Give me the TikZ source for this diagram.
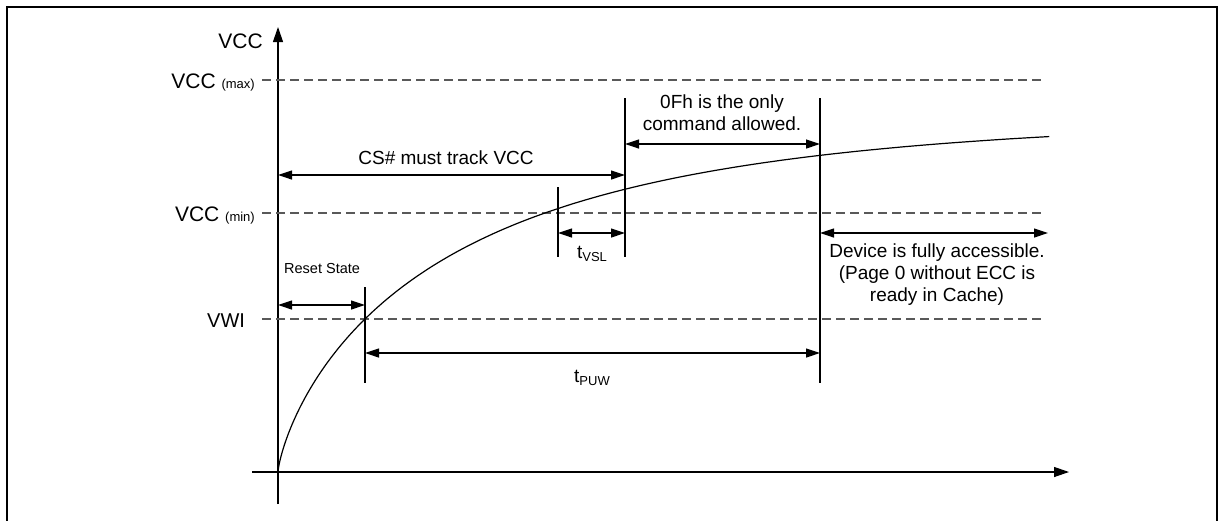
\documentclass[tikz,border=0pt]{standalone}
\usepackage{fontspec}
\setmainfont{Liberation Sans}
\usetikzlibrary{arrows.meta}
\begin{document}
\begin{tikzpicture}[x=1pt,y=-1pt,
  ln/.style={line width=1.2pt},
  axisline/.style={line width=1.2pt,-{Triangle[length=15pt,width=10pt]}},
  refline/.style={black!65, line width=1.3pt, dash pattern=on 9pt off 5pt},
  dimline/.style={line width=1.2pt,{Triangle[length=14pt,width=9pt]}-{Triangle[length=14pt,width=9pt]}},
  lbl/.style={font=\fontsize{19}{22}\selectfont, inner sep=0pt, align=center},
  small/.style={font=\fontsize{14.5}{16}\selectfont, inner sep=0pt},
]
\useasboundingbox (0,0) rectangle (1220,520);
% frame
\draw[line width=1.5pt] (7,521) -- (7,7) -- (1217,7) -- (1217,521);

% axes
\coordinate (ybot) at (278,504);
\coordinate (ytop) at (278,27);
\coordinate (xleft) at (252,472);
\coordinate (xright) at (1069,472);
\draw[axisline] (ybot) -- (ytop);
\draw[axisline] (xleft) -- (xright);

% reference levels
\coordinate (maxL) at (262,80);  \coordinate (maxR) at (1043,80);
\coordinate (minL) at (262,213); \coordinate (minR) at (1043,213);
\coordinate (vwiL) at (262,319); \coordinate (vwiR) at (1043,319);
\draw[refline] (maxL) -- (maxR);
\draw[refline] (minL) -- (minR);
\draw[refline] (vwiL) -- (vwiR);

% axis labels
\node[inner sep=0pt, anchor=base east] (vcc) at (263,48) {\fontsize{21}{24}\selectfont VCC};
\node[inner sep=0pt, anchor=base east] (vmax) at (255,88) {\fontsize{21}{24}\selectfont VCC \fontsize{13}{15}\selectfont(max)};
\node[inner sep=0pt, anchor=base east] (vmin) at (255,221) {\fontsize{21}{24}\selectfont VCC \fontsize{13}{15}\selectfont(min)};
\node[inner sep=0pt, anchor=base west] (vwi) at (207,327) {\fontsize{20}{24}\selectfont VWI};

% rising curve
\draw[line width=1.2pt] plot[domain=0:5.2711, samples=220, smooth]
  ({278+\x*\x*\x*\x},{472-355*(1-exp(-0.0198*\x*\x*\x))});

% vertical markers
\coordinate (r1) at (365,287); \coordinate (r2) at (365,383);
\coordinate (s1) at (558,187); \coordinate (s2) at (558,257);
\coordinate (c1) at (625,98);  \coordinate (c2) at (625,257);
\coordinate (p1) at (820,98);  \coordinate (p2) at (820,383);
\draw[ln] (r1) -- (r2);
\draw[ln] (s1) -- (s2);
\draw[ln] (c1) -- (c2);
\draw[ln] (p1) -- (p2);

% dimension arrows
\coordinate (csA) at (278,175);  \coordinate (csB) at (625,175);
\coordinate (ofA) at (625,144);  \coordinate (ofB) at (820,144);
\coordinate (vsA) at (558,233);  \coordinate (vsB) at (625,233);
\coordinate (rsA) at (278,305);  \coordinate (rsB) at (365,305);
\coordinate (puA) at (365,353);  \coordinate (puB) at (820,353);
\coordinate (dvA) at (820,233);  \coordinate (dvB) at (1048,233);
\draw[dimline] (csA) -- (csB);
\draw[dimline] (ofA) -- (ofB);
\draw[dimline] (vsA) -- (vsB);
\draw[dimline] (rsA) -- (rsB);
\draw[dimline] (puA) -- (puB);
\draw[dimline] (dvA) -- (dvB);

% labels
\node[lbl] (cs) at (446,158) {CS\# must track VCC};
\node[lbl] (of) at (722,113) {0Fh is the only\\command allowed.};
\node[inner sep=0pt] (tvsl) at (592,254) {\fontsize{19}{22}\selectfont t\raisebox{-3pt}{\fontsize{13}{15}\selectfont VSL}};
\node[small, anchor=west] (rs) at (284,269) {Reset State};
\node[inner sep=0pt] (tpuw) at (592,378) {\fontsize{19}{22}\selectfont t\raisebox{-3pt}{\fontsize{13}{15}\selectfont PUW}};
\node[lbl] (dv) at (937,275) {Device is fully accessible.\\(Page 0 without ECC is\\ready in Cache)};
\end{tikzpicture}
\end{document}
